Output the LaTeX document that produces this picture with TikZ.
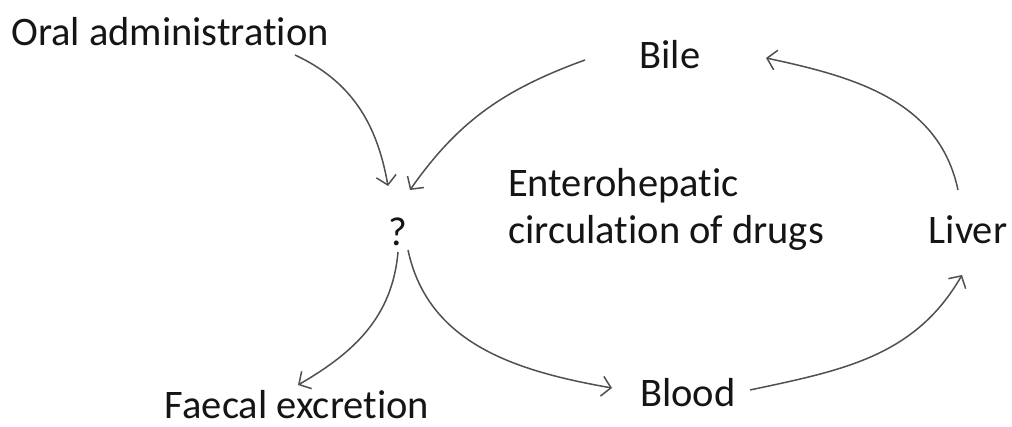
\documentclass[tikz,border=0pt]{standalone}
\usepackage{fontspec}
\setmainfont{Carlito}[RawFeature=-liga]
\usetikzlibrary{arrows.meta}
\definecolor{txt}{HTML}{151515}
\definecolor{ln}{HTML}{505050}
\tikzset{
  lbl/.style={text=txt, inner sep=0pt, font=\fontsize{40.5}{47}\selectfont},
  flow/.style={draw=ln, line width=1.5pt, -{Straight Barb[length=9pt,width=20pt,line width=1.5pt]}}
}
\begin{document}
\begin{tikzpicture}[x=1pt,y=1pt]
\useasboundingbox (0,0) rectangle (1012,427);
\node[lbl] (oral) at (170,395) {Oral administration};
\node[lbl] (bile) at (670,372) {Bile};
\node[lbl] (q) at (398,195) {?};
\node[lbl, align=left, anchor=west] (ent) at (508,218) {Enterohepatic\\circulation of drugs};
\node[lbl] (liver) at (968,197) {Liver};
\node[lbl] (faecal) at (297,22) {Faecal excretion};
\node[lbl] (blood) at (688,34) {Blood};

\draw[flow] ([shift={(125,-23)}]oral.center) to[out=-25,in=100] ([shift={(-10,46)}]q.center);
\draw[flow] ([shift={(-85,-5)}]bile.center) to[out=200,in=55] ([shift={(12,42)}]q.center);
\draw[flow] ([shift={(0,-20)}]q.center) to[out=265,in=30] ([shift={(1,20)}]faecal.center);
\draw[flow] ([shift={(10,-18)}]q.center) to[out=-78,in=170] ([shift={(-76,5)}]blood.center);
\draw[flow] ([shift={(62,3)}]blood.center) to[out=12,in=240] ([shift={(-6,-45)}]liver.center);
\draw[flow] ([shift={(-10,40)}]liver.center) to[out=102,in=-12] ([shift={(96,-3)}]bile.center);
\end{tikzpicture}
\end{document}
